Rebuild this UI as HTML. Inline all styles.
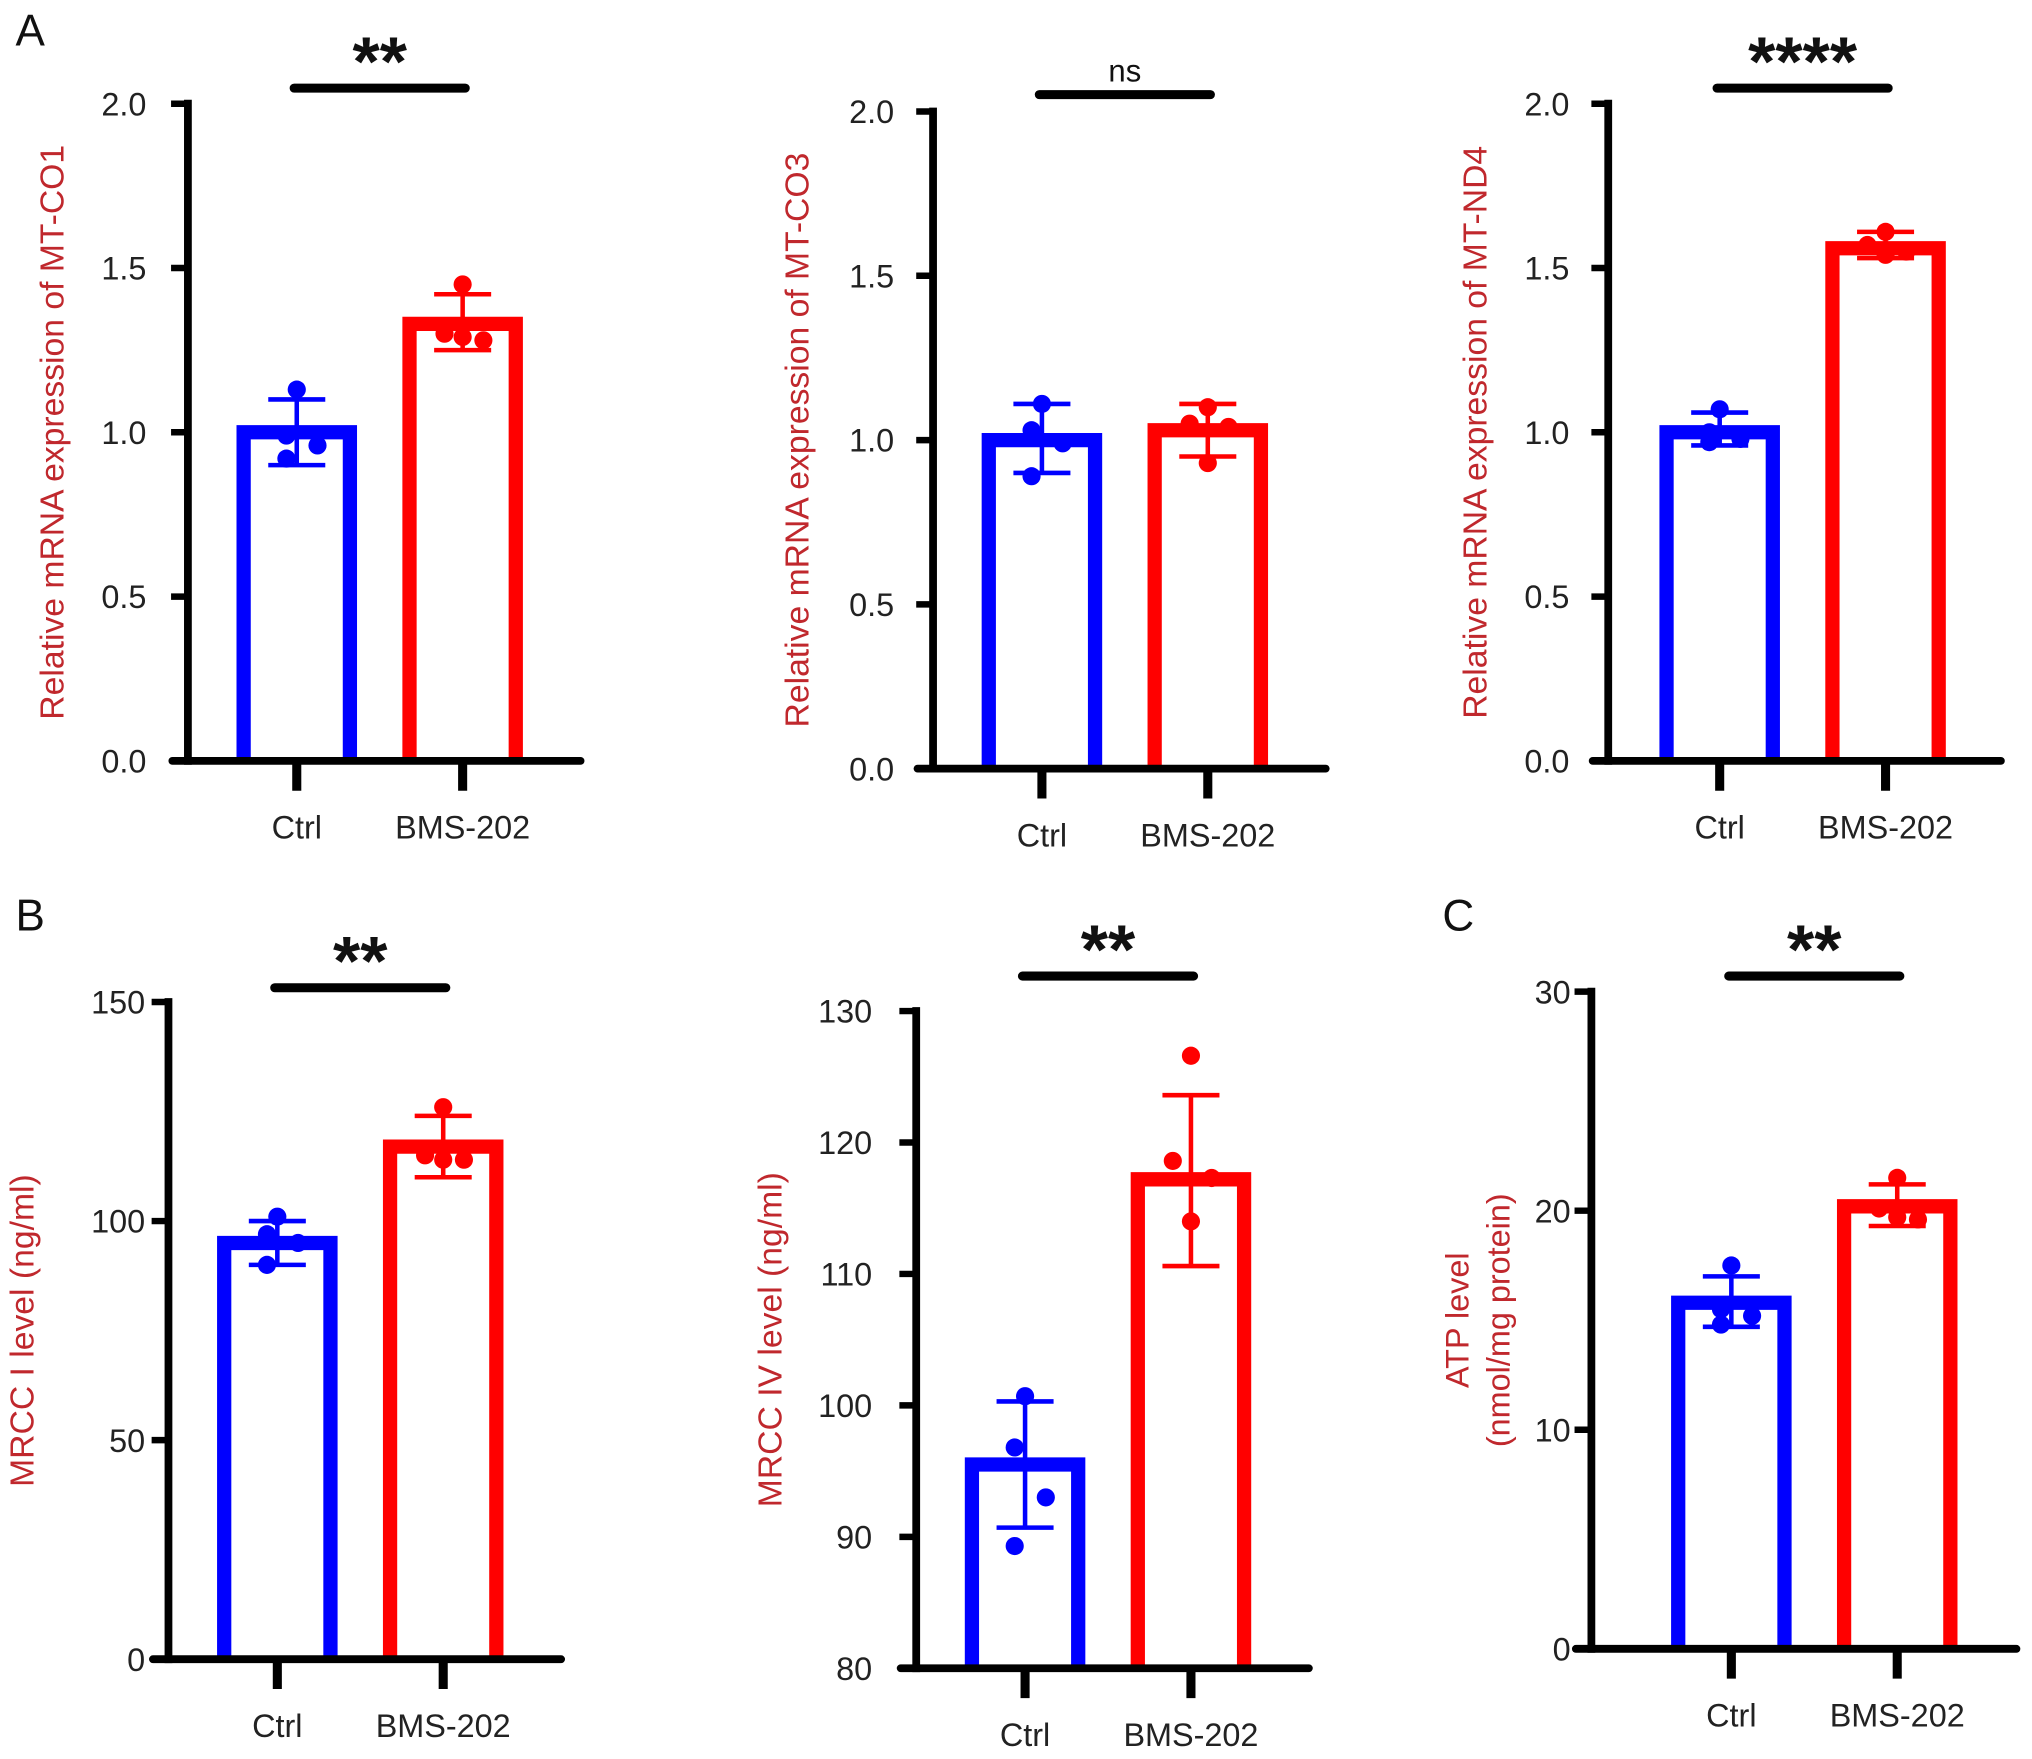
<!DOCTYPE html>
<html><head><meta charset="utf-8"><style>
html,body{margin:0;padding:0;background:#fff;}
svg{display:block;}
text{font-family:"Liberation Sans",Arial,sans-serif;}
</style></head><body>
<svg id="fig" width="2032" height="1759" viewBox="0 0 1568 1357" preserveAspectRatio="none" xmlns="http://www.w3.org/2000/svg">
<rect width="1568" height="1357" fill="#fff"/>
<text x="12" y="35" font-size="34" fill="#111">A</text>
<text x="12" y="718" font-size="34" fill="#111">B</text>
<text x="1113" y="718" font-size="34" fill="#111">C</text>
</svg>
<script>
const categories = ["Ctrl", "BMS-202"];

const a1Means = [1.0, 1.33];
const a1Err = [[0.90, 1.10], [1.25, 1.42]];
const a1Ctrl = [1.13, 0.99, 0.96, 0.92];
const a1Bms = [1.45, 1.30, 1.28, 1.29];
const a1Ticks = ["0.0", "0.5", "1.0", "1.5", "2.0"];
const a1TickVals = [0, 0.5, 1.0, 1.5, 2.0];

const a2Means = [1.0, 1.03];
const a2Err = [[0.90, 1.11], [0.95, 1.11]];
const a2Ctrl = [1.11, 1.03, 0.99, 0.89];
const a2Bms = [1.10, 1.05, 1.04, 0.93];
const a2Ticks = ["0.0", "0.5", "1.0", "1.5", "2.0"];
const a2TickVals = [0, 0.5, 1.0, 1.5, 2.0];

const a3Means = [1.0, 1.56];
const a3Err = [[0.96, 1.06], [1.53, 1.61]];
const a3Ctrl = [1.07, 1.00, 0.98, 0.97];
const a3Bms = [1.61, 1.57, 1.55, 1.54];
const a3Ticks = ["0.0", "0.5", "1.0", "1.5", "2.0"];
const a3TickVals = [0, 0.5, 1.0, 1.5, 2.0];

const b1Means = [95, 117];
const b1Err = [[90, 100], [110, 124]];
const b1Ctrl = [101, 97, 95, 90];
const b1Bms = [126, 115, 114, 114];
const b1Ticks = ["0", "50", "100", "150"];
const b1TickVals = [0, 50, 100, 150];

const b2Means = [95.5, 117.2];
const b2Err = [[90.7, 100.3], [110.6, 123.6]];
const b2Ctrl = [100.7, 96.8, 93.0, 89.3];
const b2Bms = [126.6, 118.6, 117.3, 114.0];
const b2Ticks = ["80", "90", "100", "110", "120", "130"];
const b2TickVals = [80, 90, 100, 110, 120, 130];

const cMeans = [15.8, 20.2];
const cErr = [[14.7, 17.0], [19.3, 21.2]];
const cCtrl = [17.5, 15.5, 15.2, 14.8];
const cBms = [21.5, 20.1, 19.6, 19.7];
const cTicks = ["0", "10", "20", "30"];
const cTickVals = [0, 10, 20, 30];

const svg = document.getElementById('fig');
const NS = 'http://www.w3.org/2000/svg';
function mk(tag, attrs, parent) {
  const e = document.createElementNS(NS, tag);
  for (const k in attrs) e.setAttribute(k, attrs[k]);
  (parent || svg).appendChild(e);
  return e;
}
const jitter = [[0, -8, 16, -8], [0, -14, 16, 0]];
const colors = ['#0000ff', '#ff0000'];

function drawPanel(p) {
  const g = mk('g', {});
  
  
  const lo = p.tickVals[0], hi = p.tickVals[p.tickVals.length - 1];
  const y = v => p.bottom - (v - lo) / (hi - lo) * (p.bottom - p.top);
  const xc = i => p.ax + p.gap0 + i * 128;
  [p.means[0], p.means[1]].forEach((m, i) => {
    const r = mk('path', {d: `M${xc(i)-41},${p.bottom}V${y(m)}H${xc(i)+41}V${p.bottom}`, fill: 'none', stroke: colors[i], 'stroke-width': 11}, g);
    
    
  });
  p.err.forEach((e, i) => {
    const eb = mk('path', {d: `M${xc(i)},${y(e[0])}V${y(e[1])}M${xc(i)-22},${y(e[0])}H${xc(i)+22}M${xc(i)-22},${y(e[1])}H${xc(i)+22}`, stroke: colors[i], 'stroke-width': 3.5, fill: 'none'}, g);
    
    
  });
  [p.ctrl, p.bms].forEach((arr, i) => {
    arr.forEach((v, j) => {
      const c = mk('circle', {cx: xc(i) + jitter[i][j], cy: y(v), r: 7, fill: colors[i]}, g);
      
      
    });
  });
  const ya = mk('line', {x1: p.ax, y1: p.top - 3, x2: p.ax, y2: p.bottom + 3, stroke: '#000', 'stroke-width': 6}, g);
  
  
  const xa = mk('line', {x1: p.ax - 12, y1: p.bottom, x2: p.ax + p.xLen, y2: p.bottom, stroke: '#000', 'stroke-width': 6, 'stroke-linecap': 'round'}, g);
  
  
  p.tickVals.forEach((v, i) => {
    mk('line', {x1: p.ax - 13, y1: y(v), x2: p.ax, y2: y(v), stroke: '#000', 'stroke-width': 5}, g);
    const t = mk('text', {x: p.ax - p.tickGap, y: y(v) + 9, 'font-size': 25, 'text-anchor': 'end', fill: '#222'}, g);
    t.textContent = p.ticks[i];
    
    
  });
  categories.forEach((c, i) => {
    mk('line', {x1: xc(i), y1: p.bottom, x2: xc(i), y2: p.bottom + 23, stroke: '#000', 'stroke-width': 7}, g);
    const t = mk('text', {x: xc(i), y: p.bottom + 60, 'font-size': 25, 'text-anchor': 'middle', fill: '#222'}, g);
    t.textContent = c;
    
    
  });
  p.title.forEach((line, k) => {
    const tx = p.ax - p.titleOff + k * 32;
    const ty = (p.top + p.bottom) / 2;
    const t = mk('text', {x: tx, y: ty, 'font-size': p.titleSize, 'text-anchor': 'middle', fill: '#c0282d', transform: `rotate(-90 ${tx} ${ty})`}, g);
    t.textContent = line;
    
    
  });
  const sb = mk('line', {x1: xc(0) - 2, y1: p.sigY, x2: xc(1) + 2, y2: p.sigY, stroke: '#000', 'stroke-width': 7, 'stroke-linecap': 'round'}, g);
  
  
  const ns = p.sig === 'ns';
  const st = mk('text', {x: (xc(0) + xc(1)) / 2, y: ns ? p.sigY - 10 : p.sigY - 2, 'font-size': ns ? 24 : 54, 'font-weight': ns ? 'normal' : 'bold', 'text-anchor': 'middle', fill: '#111'}, g);
  st.textContent = p.sig;
  
  
}

drawPanel({name: 'panel-a-mt-co1', ax: 145, gap0: 84, xLen: 303, tickGap: 32, top: 80, bottom: 587, means: a1Means, err: a1Err, ctrl: a1Ctrl, bms: a1Bms, ticks: a1Ticks, tickVals: a1TickVals, title: ['Relative mRNA expression of MT-CO1'], titleSize: 26, titleOff: 96, sigY: 68, sig: '**'});
drawPanel({name: 'panel-a-mt-co3', ax: 720, gap0: 84, xLen: 303, tickGap: 30, top: 86, bottom: 593, means: a2Means, err: a2Err, ctrl: a2Ctrl, bms: a2Bms, ticks: a2Ticks, tickVals: a2TickVals, title: ['Relative mRNA expression of MT-CO3'], titleSize: 26, titleOff: 96, sigY: 73, sig: 'ns'});
drawPanel({name: 'panel-a-mt-nd4', ax: 1241, gap0: 86, xLen: 303, tickGap: 30, top: 80, bottom: 587, means: a3Means, err: a3Err, ctrl: a3Ctrl, bms: a3Bms, ticks: a3Ticks, tickVals: a3TickVals, title: ['Relative mRNA expression of MT-ND4'], titleSize: 26, titleOff: 94, sigY: 68, sig: '****'});
drawPanel({name: 'panel-b-mrcc-i', ax: 130, gap0: 84, xLen: 303, tickGap: 18, top: 773, bottom: 1280, means: b1Means, err: b1Err, ctrl: b1Ctrl, bms: b1Bms, ticks: b1Ticks, tickVals: b1TickVals, title: ['MRCC I level (ng/ml)'], titleSize: 26, titleOff: 104, sigY: 762, sig: '**'});
drawPanel({name: 'panel-b-mrcc-iv', ax: 707, gap0: 84, xLen: 303, tickGap: 34, top: 780, bottom: 1287, means: b2Means, err: b2Err, ctrl: b2Ctrl, bms: b2Bms, ticks: b2Ticks, tickVals: b2TickVals, title: ['MRCC IV level (ng/ml)'], titleSize: 26, titleOff: 104, sigY: 753, sig: '**'});
drawPanel({name: 'panel-c-atp', ax: 1228, gap0: 108, xLen: 328, tickGap: 16, top: 765, bottom: 1272, means: cMeans, err: cErr, ctrl: cCtrl, bms: cBms, ticks: cTicks, tickVals: cTickVals, title: ['ATP level', '(nmol/mg protein)'], titleSize: 25, titleOff: 95, sigY: 753, sig: '**'});
</script>
</body></html>
